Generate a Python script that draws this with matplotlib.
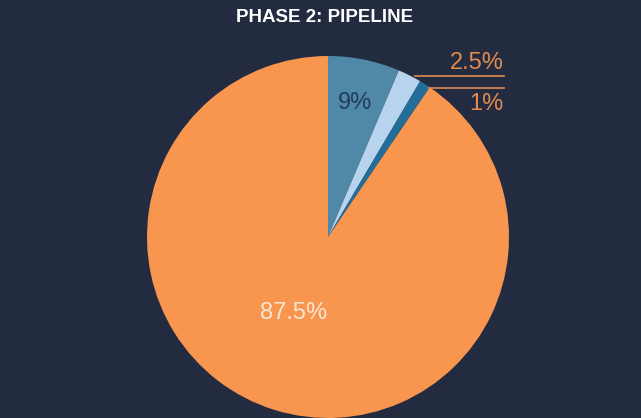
import matplotlib
matplotlib.use("Agg")
import matplotlib.pyplot as plt

# Pipeline phase share: printed labels, and slice sizes as drawn in the picture
labels = ["9%", "2.5%", "1%", "87.5%"]
shares = [6.4, 2.1, 1.0, 90.5]
colors = ["#5089a8", "#b7d3ee", "#226e98", "#f8954f"]

bg = "#222b40"
plt.rcParams["font.family"] = ["Liberation Sans", "DejaVu Sans"]

fig = plt.figure(figsize=(6.41, 4.18), dpi=100)
fig.patch.set_facecolor(bg)

# pie fills a square axes centered at (328, 237) px, radius 181 px
ax = fig.add_axes([147 / 641, 0, 362 / 641, 362 / 418])
ax.set_facecolor(bg)
wedges, _ = ax.pie(shares, colors=colors, startangle=90, counterclock=False,
                   radius=1, wedgeprops=dict(linewidth=0))
ax.set_xlim(-1, 1)
ax.set_ylim(-1, 1)
ax.set_aspect("equal")
ax.axis("off")

# inside labels
ax.text(0.15, 0.74, labels[0], color="#223b5a", fontsize=17, ha="center", va="center")
ax.text(-0.19, -0.42, labels[3], color="#fbe6d2", fontsize=17, ha="center", va="center")

# outside labels with leader lines
lab_col = "#e08a4f"
ax.plot([0.48, 0.97], [0.89, 0.89], color=lab_col, lw=1.2, clip_on=False)
ax.plot([0.56, 0.97], [0.823, 0.823], color=lab_col, lw=1.2, clip_on=False)
ax.text(0.97, 0.90, labels[1], color=lab_col, fontsize=17, ha="right", va="bottom")
ax.text(0.97, 0.795, labels[2], color=lab_col, fontsize=17, ha="right", va="top")

fig.text(325 / 641, 1 - 17 / 418, "PHASE 2: PIPELINE", color="white", fontsize=13.5,
         fontweight="heavy", ha="center", va="center")

fig.savefig("out.png", dpi=100, facecolor=bg)
